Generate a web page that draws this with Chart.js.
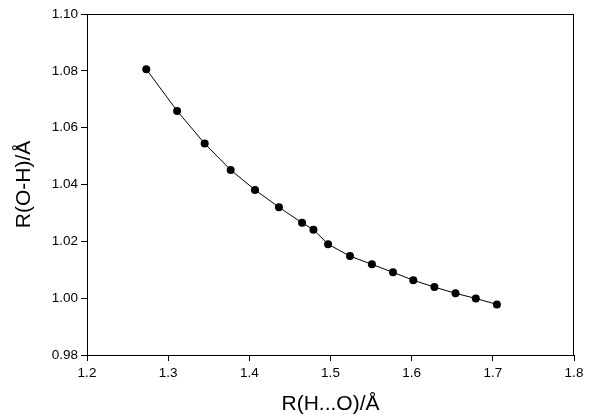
<!DOCTYPE html>
<html>
<head>
<meta charset="utf-8">
<script src="https://cdn.jsdelivr.net/npm/chart.js@4/dist/chart.umd.min.js"></script>
<style>
  html, body { margin: 0; padding: 0; background: #fff; }
  #wrap { width: 589px; height: 417px; }
</style>
</head>
<body>
<div id="wrap"><canvas id="c" width="589" height="417"></canvas></div>
<script>
// Data
const rHO = [1.273, 1.311, 1.345, 1.377, 1.407, 1.4365, 1.465, 1.479, 1.497, 1.524, 1.551, 1.577, 1.602, 1.628, 1.654, 1.679, 1.705];
const rOH = [1.0806, 1.0659, 1.0544, 1.0451, 1.0381, 1.0320, 1.0265, 1.0241, 1.0190, 1.0148, 1.0119, 1.0091, 1.0063, 1.0039, 1.0017, 0.9999, 0.9978];
const xTickValues = [1.2, 1.3, 1.4, 1.5, 1.6, 1.7, 1.8];
const yTickValues = [0.98, 1.00, 1.02, 1.04, 1.06, 1.08, 1.10];
const xTitle = 'R(H...O)/Å';
const yTitle = 'R(O-H)/Å';

const points = rHO.map((x, i) => ({ x: x, y: rOH[i] }));

const frame = {
  id: 'frame',
  afterDraw(chart) {
    const { ctx, chartArea: a } = chart;
    ctx.save();
    ctx.strokeStyle = '#000';
    ctx.lineWidth = 1;
    ctx.beginPath();
    ctx.moveTo(a.left, a.top + 0.5);
    ctx.lineTo(a.right, a.top + 0.5);
    ctx.moveTo(a.right - 0.5, a.top);
    ctx.lineTo(a.right - 0.5, a.bottom);
    ctx.stroke();
    ctx.restore();
  }
};

const tickFont = { family: '"Liberation Sans", Arial, sans-serif', size: 13.5 };
const titleFont = { family: '"Liberation Sans", Arial, sans-serif', size: 21 };

new Chart(document.getElementById('c'), {
  type: 'scatter',
  data: {
    datasets: [{
      data: points,
      showLine: true,
      borderColor: '#000',
      borderWidth: 1,
      backgroundColor: '#000',
      pointBackgroundColor: '#000',
      pointBorderColor: '#000',
      pointRadius: 4,
      pointBorderWidth: 0,
      tension: 0
    }]
  },
  options: {
    responsive: false,
    animation: false,
    devicePixelRatio: 1,
    layout: { padding: { left: 0, top: 14, right: 15, bottom: 0 } },
    plugins: { legend: { display: false }, tooltip: { enabled: false } },
    scales: {
      x: {
        type: 'linear',
        min: 1.2, max: 1.8,
        afterBuildTicks: s => { s.ticks = xTickValues.map(v => ({ value: v })); },
        afterFit: s => { s.height = 62; },
        ticks: { color: '#000', font: tickFont, padding: 4, maxRotation: 0,
                 callback: v => v.toFixed(1) },
        grid: { display: true, drawOnChartArea: false, drawTicks: true, tickLength: 6, color: '#000', tickColor: '#000' },
        border: { display: true, color: '#000', width: 1 },
        title: { display: true, text: xTitle, color: '#000', font: titleFont, padding: { top: 0, bottom: 0 } }
      },
      y: {
        type: 'linear',
        min: 0.98, max: 1.10,
        afterBuildTicks: s => { s.ticks = yTickValues.map(v => ({ value: v })); },
        afterFit: s => { s.width = 87; },
        ticks: { color: '#000', font: tickFont, padding: 3,
                 callback: v => v.toFixed(2) },
        grid: { display: true, drawOnChartArea: false, drawTicks: true, tickLength: 6, color: '#000', tickColor: '#000' },
        border: { display: true, color: '#000', width: 1 },
        title: { display: true, text: yTitle, color: '#000', font: titleFont, padding: { top: 12, bottom: 0 } }
      }
    }
  },
  plugins: [frame]
});
</script>
</body>
</html>
